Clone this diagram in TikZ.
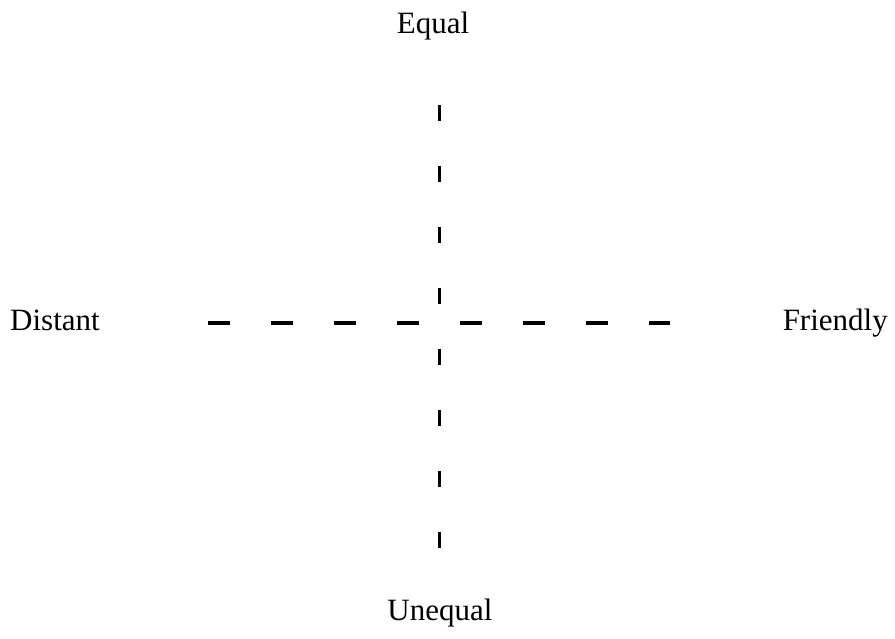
\documentclass[tikz,border=0pt]{standalone}
\usepackage{fontspec}
\setmainfont{Liberation Serif}
\usepackage{tikz}
\usetikzlibrary{positioning}

\tikzset{
  pole/.style={font=\fontsize{31}{36}\selectfont, inner sep=0pt},
  hdash/.style={line width=3.6pt, dash pattern=on 22pt off 41pt},
  vdash/.style={line width=3pt, dash pattern=on 16pt off 45pt}
}

\begin{document}
\begin{tikzpicture}[x=1pt, y=-1pt]
\useasboundingbox (0,0) rectangle (895,638);

% ---- pole labels -----------------------------------------------------------
\node[pole, anchor=base]      (equal)    at (433,33)  {Equal};
\node[pole, anchor=base]      (unequal)  at (440,620) {Unequal};
\node[pole, anchor=base west] (distant)  at (10,330)  {Distant};
\node[pole, anchor=base east] (friendly) at (888,330) {Friendly};

% ---- axis ends ---------------------------------------------------------------
\coordinate (top)    at (439,105);
\coordinate (bottom) at (439,553);
\coordinate (left)   at (208,323);
\coordinate (right)  at (670,323);

% ---- dashed axes -------------------------------------------------------------
\draw[vdash] (top) -- (bottom);
\draw[hdash] (left) -- (right);

\end{tikzpicture}
\end{document}
